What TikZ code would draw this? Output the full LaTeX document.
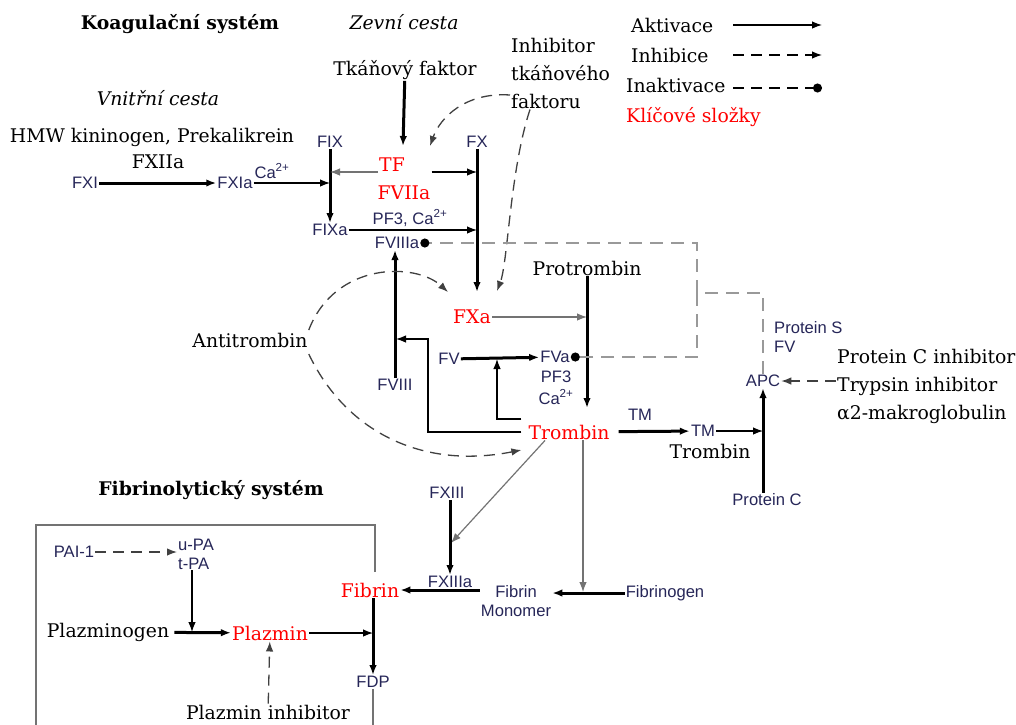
\documentclass[tikz,border=0pt]{standalone}
\usepackage{fontspec}
\setmainfont{DejaVu Serif}
\newfontfamily\labelfont{Liberation Sans}
\usetikzlibrary{arrows.meta, positioning, calc}
\definecolor{labelblue}{RGB}{38,38,88}
\definecolor{keyred}{RGB}{255,0,0}
\tikzset{
	txt/.style={font=\fontsize{18.8}{28}\selectfont, inner sep=1pt},
	lbl/.style={font=\labelfont\fontsize{16.6}{19}\selectfont, text=labelblue, inner sep=1pt},
	key/.style={txt, text=keyred},
	act/.style={-{Latex[length=10pt,width=7.5pt]}, line width=1.2pt},
	actb/.style={act, line width=3pt},
	inh/.style={-{Latex[length=10pt,width=7.5pt]}, line width=1.3pt, dash pattern=on 11pt off 7pt, black!75},
	inact/.style={-{Circle[length=9pt,color=black]}, line width=1.7pt, dash pattern=on 13pt off 8pt, black!40},
	boxline/.style={line width=1.3pt, black!55},
}
\begin{document}
\begin{tikzpicture}[x=1pt,y=-1pt]
	\useasboundingbox (0,0) rectangle (1016,724);
	% titles
	\node[txt] (koag) at (180,24) {\textbf{Koagulační systém}};
	\node[txt] (zevni) at (404,22) {\textit{Zevní cesta}};
	\node[txt] (vnitrni) at (158,98) {\textit{Vnitřní cesta}};
	\node[txt] (fibrsys) at (211,490) {\textbf{Fibrinolytický systém}};

	% legend
	\node[txt, anchor=west] (lakt) at (630,25) {Aktivace};
	\node[txt, anchor=west] (linh) at (630,55) {Inhibice};
	\node[txt, anchor=west] (linak) at (625,85) {Inaktivace};
	\node[key, anchor=west] (lkey) at (625,117) {Klíčové složky};
	\coordinate (e1) at (822,25);
	\coordinate (e2) at (822,55);
	\coordinate (e3) at (822,88);
	\draw[act] (lakt.east -| 733,0) -- (e1);
	\draw[inh, black] (linh.east -| 733,0) -- (e2);
	\draw[inh, black, -{Circle[length=9pt]}] (733,88) -- (e3);

	% vnitrni cesta
	\node[txt] (hmw) at (152,137) {HMW kininogen, Prekalikrein};
	\node[txt] (fxiia) at (158,162) {FXIIa};
	\node[lbl] (fxi) at (85,183) {FXI};
	\node[lbl] (fxia) at (235,183) {FXIa};
	\node[lbl] (ca1) at (272,171) {Ca\textsuperscript{2+}};
	\node[lbl] (fix) at (330,142) {FIX};
	\node[lbl] (fixa) at (330,230) {FIXa};
	\coordinate (c_fix) at (330,183);
	\coordinate (c_fix2) at (330,172);
	\draw[actb] (fxi) -- (fxia);
	\draw[act] (fxia) -- (c_fix);
	\draw[actb] (fix) -- (fixa);

	% zevni cesta
	\node[txt] (tkan) at (405,70) {Tkáňový faktor};
	\node[key] (tf) at (392,165) {TF};
	\node[key] (fviia) at (404,193) {FVIIa};
	\node[txt, align=left, anchor=west] (tfpi) at (510,73) {Inhibitor\\tkáňového\\faktoru};
	\node[lbl] (fx) at (477,142) {FX};
	\coordinate (c_tf) at (403,146);
	\coordinate (c_fx1) at (477,172);
	\coordinate (c_fxa) at (477,292);
	\coordinate (c_fxa2) at (497,291);
	\draw[actb] (tkan) -- (c_tf);
	\draw[act, black!55] (tf.west |- c_fix2) -- (c_fix2);
	\draw[act] (fviia.east |- c_fx1) -- (c_fx1);
	\draw[actb] (fx) -- (c_fxa);
	\draw[inh] ([yshift=-22pt]tfpi.west) .. controls (465,92) and (440,118) .. (c_tf -| 430,0);
	\draw[inh] ([xshift=20pt]tfpi.south west) .. controls (510,170) and (508,262) .. (c_fxa2);

	% tenasa
	\node[lbl] (pf3a) at (410,218) {PF3, Ca\textsuperscript{2+}};
	\node[lbl] (fviiia) at (397,243) {FVIIIa};
	\node[lbl] (fviii) at (395,385) {FVIII};
	\draw[act] (fixa) -- (fixa -| fx);
	\draw[actb] (fviii) -- (fviii |- fviiia.south);

	% protrombinasa
	\node[key] (fxa) at (472,317) {FXa};
	\node[txt] (protr) at (587,268) {Protrombin};
	\node[lbl] (fv) at (449,359) {FV};
	\node[lbl] (fva) at (555,357) {FVa};
	\node[lbl] (pf3b) at (556,377) {PF3};
	\node[lbl] (ca3) at (556,397) {Ca\textsuperscript{2+}};
	\node[key] (trombin) at (569,432) {Trombin};
	\node[txt] (antitr) at (250,340) {Antitrombin};
	\coordinate (c_pr) at (587,408);
	\coordinate (c_fv) at (497,359);
	\coordinate (c_f8k) at (428,339);
	\coordinate (c_f8) at (396,339);
	\draw[act, black!55] (fxa) -- (fxa -| protr);
	\draw[actb] (protr) -- (c_pr);
	\draw[actb] (fv) -- (fva);
	\draw[act] ([xshift=-6pt,yshift=13pt]trombin.west) -| (c_fv);
	\draw[act] ([xshift=-6pt]trombin.west) -| (c_f8k) -- (c_f8);
	\draw[inh] ([yshift=10pt]antitr.east) .. controls (335,262) and (415,262) .. (c_fxa -| 448,0);
	\draw[inh] ([yshift=-14pt]antitr.east) .. controls (345,430) and (420,470) .. ([xshift=-6pt,yshift=-18pt]trombin.west);

	% protein C
	\node[lbl] (tm1) at (640,415) {TM};
	\node[lbl] (tm2) at (703,431) {TM};
	\node[txt] (tmtr) at (710,451) {Trombin};
	\node[lbl] (apc) at (763,381) {APC};
	\node[lbl, align=left, anchor=west] (ps) at (773,337) {Protein S\\FV};
	\node[lbl] (protc) at (767,500) {Protein C};
	\node[txt, align=left, anchor=west] (pci) at (836,386) {Protein C inhibitor\\Trypsin inhibitor\\α2-makroglobulin};
	\coordinate (c_apc) at (763,293);
	\coordinate (c_in) at (697,293);
	\draw[actb, shorten <=8pt] (trombin) -- (tm2);
	\draw[act] (tm2) -- (tm2 -| apc);
	\draw[actb] (protc.north -| apc) -- (apc);
	\draw[inh] (pci.west |- apc) -- (apc);
	\draw[inact] (apc.north) |- (c_in) |- (fviiia.east);
	\draw[inact] (c_in) |- (fva.east);

	% fibrin
	\node[lbl] (fxiii) at (447,493) {FXIII};
	\node[lbl] (fxiiia) at (450,582) {FXIIIa};
	\node[lbl, align=center] (fmono) at (516,601) {Fibrin\\Monomer};
	\node[lbl] (fbgen) at (665,593) {Fibrinogen};
	\node[key] (fibrin) at (370,590) {Fibrin};
	\coordinate (c_f13) at (451,543);
	\coordinate (c_fb) at (583,592);
	\draw[act, black!55] ([xshift=-24pt]trombin.south) -- (c_f13);
	\draw[actb] (fxiii.south -| fxiiia) -- (fxiiia);
	\draw[act, black!55] (trombin.south -| c_fb) -- (c_fb);
	\draw[actb] (fbgen) -- (fbgen -| fmono.east);
	\draw[actb] (fmono.west |- fibrin) -- (fibrin);

	% fibrinolyza
	\node[lbl] (pai) at (74,552) {PAI-1};
	\node[lbl, align=left, anchor=west] (upa) at (177,554) {u-PA\\t-PA};
	\node[txt] (plgen) at (108,632) {Plazminogen};
	\node[key] (plazmin) at (270,633) {Plazmin};
	\node[lbl] (fdp) at (373,682) {FDP};
	\node[txt] (plinh) at (268,712) {Plazmin inhibitor};
	\coordinate (c_pg) at (192,632);
	\draw[boxline] (375,572) |- (36,525) -- (36,730);
	\draw[boxline] (fdp.south) -- (fdp.south |- 0,730);
	\draw[inh] (pai) -- (pai -| upa.west);
	\draw[act] (upa.south -| c_pg) -- (c_pg);
	\draw[actb, shorten <=4pt] (plgen) -- (plazmin);
	\draw[act] (plazmin) -- (plazmin -| fdp);
	\draw[actb] (fibrin.south -| fdp) -- (fdp);
	\draw[inh] (plinh) -- (plazmin);
\end{tikzpicture}
\end{document}
